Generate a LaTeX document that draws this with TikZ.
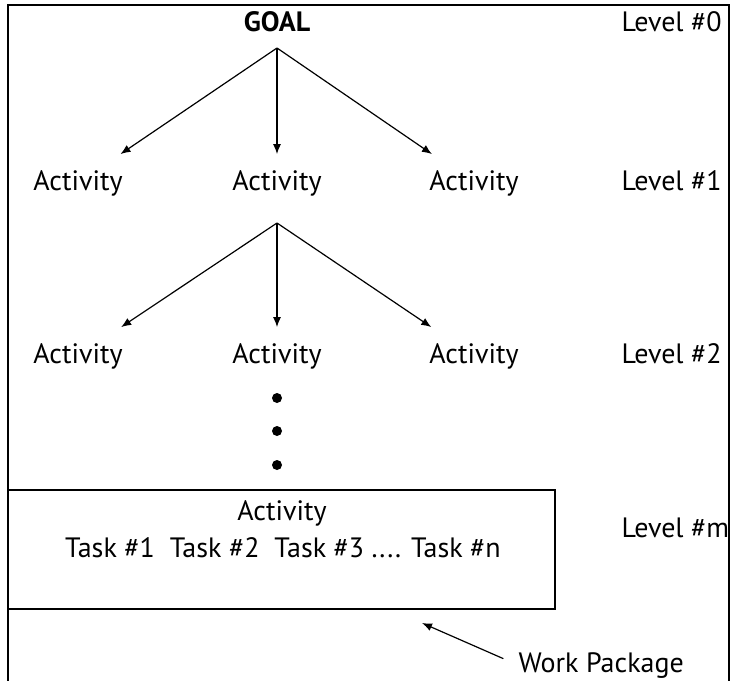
\documentclass[tikz,border=0pt]{standalone}
\usepackage{fontspec}
\setmainfont{PT Sans}
\usetikzlibrary{positioning}
\usetikzlibrary{arrows.meta}
\tikzset{
        treenode/.style={align=center,inner sep=0pt,font=\fontsize{14}{16}\selectfont},
        % Goal node
        node_goal/.style={treenode, anchor=base, font=\fontsize{14}{16}\selectfont\bfseries},
        % Activity nodes
        node_activity/.style={treenode, anchor=base, outer sep=8pt},
        % Level labels
        node_level/.style={treenode, anchor=base west},
        % Continuation dots
        node_dot/.style={circle, fill=black, inner sep=0pt, minimum size=5pt},
        % Work package box
        node_box/.style={rectangle, draw=black, minimum width=273.5pt, minimum height=59.5pt}
}
\begin{document}
\begin{tikzpicture}[
            x=0.5pt, y=-0.5pt,
            ->, >={Latex[length=5pt,width=4pt]},
            line width=0.6pt
        ]
            \useasboundingbox (0,0) rectangle (732,680);
            \draw[-] (8,700) -- (8,5) -- (729,5) -- (729,700);

            \node[node_goal] (goal) at (277,32) {GOAL};
            \coordinate (fork_a) at (277,48);
            \node[node_activity] (act_1l) at (78,190) {Activity};
            \node[node_activity] (act_1m) at (277,190) {Activity};
            \node[node_activity] (act_1r) at (474,190) {Activity};
            \draw (fork_a) -- (act_1l);
            \draw (fork_a) -- (act_1m);
            \draw (fork_a) -- (act_1r);

            \coordinate (fork_b) at (277,223);
            \node[node_activity] (act_2l) at (78,363) {Activity};
            \node[node_activity] (act_2m) at (277,363) {Activity};
            \node[node_activity] (act_2r) at (474,363) {Activity};
            \draw (fork_b) -- (act_2l);
            \draw (fork_b) -- (act_2m);
            \draw (fork_b) -- (act_2r);

            \node[node_dot] (dot_1) at (277,398) {};
            \node[node_dot] (dot_2) at (277,431) {};
            \node[node_dot] (dot_3) at (277,465) {};

            \node[node_box] (wp_box) at (281.5,549.5) {};
            \node[treenode, anchor=base] (wp_act) at (282,520) {Activity};
            \node[treenode, anchor=base] (wp_tasks) at (283,557) {Task \#1\ \ Task \#2\ \ Task \#3 .... Task \#n};

            \node[node_level] (lvl_0) at (621,32) {Level \#0};
            \node[node_level] (lvl_1) at (621,190) {Level \#1};
            \node[node_level] (lvl_2) at (621,363) {Level \#2};
            \node[node_level] (lvl_m) at (621,537) {Level \#m};

            \node[treenode, anchor=base west] (wp_label) at (518,672) {Work Package};
            \coordinate (wp_tip) at (422,623);
            \draw[shorten <=8pt] (wp_label.west) -- (wp_tip);
        \end{tikzpicture}
\end{document}
